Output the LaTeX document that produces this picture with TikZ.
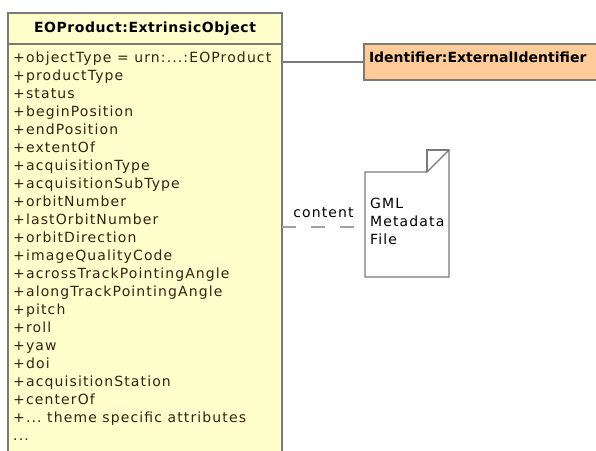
\documentclass[tikz,border=0pt]{standalone}
\usepackage{fontspec}
\setmainfont{DejaVu Sans}
\newfontfamily\umlfont[LetterSpace=8]{DejaVu Sans}
\newfontfamily\umlheadfont[LetterSpace=4]{DejaVu Sans}
\usepackage{xcolor}
\usepackage{tikz}
\usetikzlibrary{positioning}

\definecolor{classfill}{HTML}{FFFFCC}
\definecolor{idfill}{HTML}{FFCC99}
\definecolor{umlline}{HTML}{7A7A7A}
\definecolor{attrtext}{HTML}{3A1F14}
\newcommand{\tdots}{...}

\tikzset{
	classbox/.style={draw=umlline, line width=1.3pt, fill=classfill, inner sep=0pt, outer sep=0pt},
	attr/.style={anchor=west, inner sep=0pt, text height=10pt, text depth=3pt, text=attrtext,
		font=\umlfont\fontsize{14}{16}\selectfont},
	idbox/.style={draw=umlline, line width=1.3pt, fill=idfill, anchor=north west, inner xsep=3pt,
		inner ysep=8pt, outer sep=0pt, text height=10pt, text depth=10pt,
		minimum width=260, text width=250, align=left,
		font=\fontsize{14}{16}\selectfont\bfseries},
	notetext/.style={anchor=west, inner sep=0pt, text height=10pt, text depth=3pt,
		font=\umlfont\fontsize{14}{16}\selectfont},
}

\begin{document}
\begin{tikzpicture}[x=1pt,y=-1pt]
	\useasboundingbox (0,0) rectangle (596,450);
	\clip (0,0) rectangle (596,450);
%	class with its attributes
	\node[classbox, anchor=north west, minimum width=274, minimum height=31,
		font=\umlheadfont\fontsize{14}{16}\selectfont\bfseries] (head) at (8,13) {EOProduct:ExtrinsicObject};
	\node[classbox, anchor=north west, minimum width=274, minimum height=430] (body) at (head.south west) {};
	\foreach \attr [count=\i from 0] in {+objectType = urn:\tdots:EOProduct, +productType, +status,
		+beginPosition, +endPosition, +extentOf, +acquisitionType, +acquisitionSubType,
		+orbitNumber, +lastOrbitNumber, +orbitDirection, +imageQualityCode,
		+acrossTrackPointingAngle, +alongTrackPointingAngle, +pitch, +roll, +yaw, +doi,
		+acquisitionStation, +centerOf, +\tdots\ theme specific attributes, \tdots} {
		\node[attr] (a\i) at (13,59+18*\i) {\attr};
	}
%	external identifier
	\node[idbox] (id) at (364,44) {Identifier:ExternalIdentifier};
	\draw[umlline, line width=1.2pt] (id.west) -- (id.west -| body.east);
%	document
	\node[minimum width=84, minimum height=105, inner sep=0pt, outer sep=0pt] (doc) at (407,224.5) {};
	\draw[umlline, line width=1.2pt, fill=white] (doc.south west) -- (doc.north west)
		-- ([xshift=-22]doc.north east) -- ([yshift=22]doc.north east) -- (doc.south east) -- cycle;
	\draw[umlline, line width=1.2pt] ([xshift=-22]doc.north east) |- ([yshift=22]doc.north east);
	\node[notetext] (gml) at (370,205) {GML};
	\node[notetext] (meta) at (370,223) {Metadata};
	\node[notetext] (file) at (370,241) {File};
	\draw[umlline!70, line width=1.5pt, dash pattern=on 14pt off 15pt]
		(body.east |- 0,227) coordinate (c0) -- (c0 -| doc.west)
		node[midway, above=5pt, text=black, font=\umlfont\fontsize{14}{16}\selectfont] {content};
\end{tikzpicture}
\end{document}
